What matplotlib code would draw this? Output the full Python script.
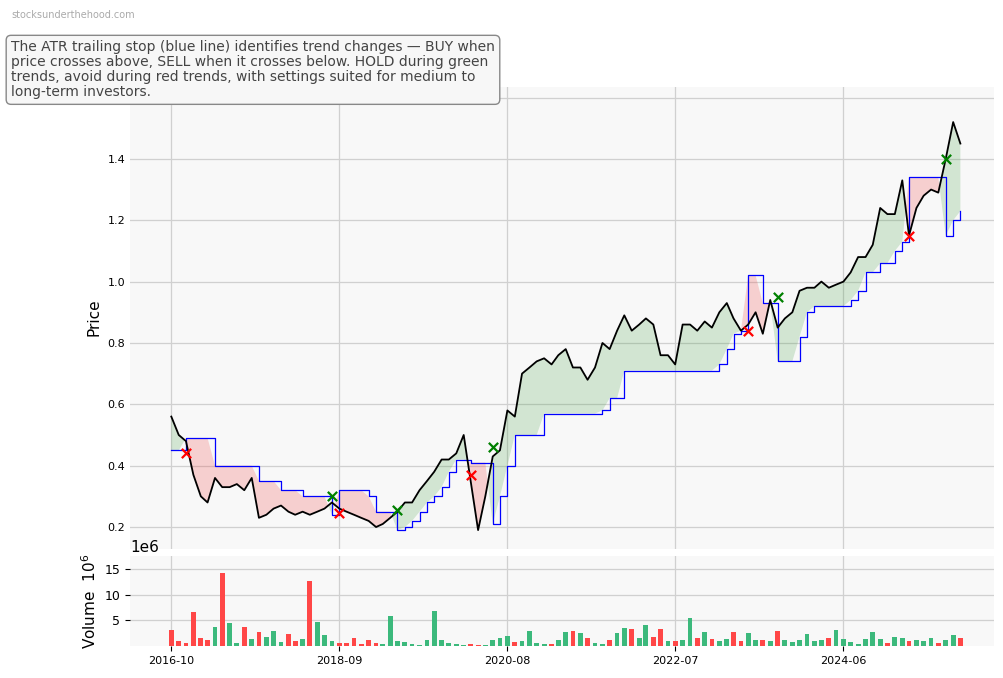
import matplotlib
matplotlib.use("Agg")
import matplotlib.pyplot as plt
import matplotlib.dates as mdates
import numpy as np
import pandas as pd

# Datos mensuales (oct-2016 en adelante)
PRECIO = [0.56, 0.50, 0.48, 0.37, 0.30, 0.28, 0.36, 0.33, 0.33, 0.34, 0.32, 0.36,
          0.23, 0.24, 0.26, 0.27, 0.25, 0.24, 0.25, 0.24, 0.25, 0.26, 0.28, 0.26,
          0.25, 0.24, 0.23, 0.22, 0.20, 0.21, 0.23, 0.25, 0.28, 0.28, 0.32, 0.35,
          0.38, 0.42, 0.42, 0.44, 0.50, 0.35, 0.19, 0.30, 0.43, 0.45, 0.58, 0.56,
          0.70, 0.72, 0.74, 0.75, 0.73, 0.76, 0.78, 0.72, 0.72, 0.68, 0.72, 0.80,
          0.78, 0.84, 0.89, 0.84, 0.86, 0.88, 0.86, 0.76, 0.76, 0.73, 0.86, 0.86,
          0.84, 0.87, 0.85, 0.90, 0.93, 0.88, 0.84, 0.86, 0.90, 0.83, 0.94, 0.85,
          0.88, 0.90, 0.97, 0.98, 0.98, 1.00, 0.98, 0.99, 1.00, 1.03, 1.08, 1.08,
          1.12, 1.24, 1.22, 1.22, 1.33, 1.15, 1.24, 1.28, 1.30, 1.29, 1.40, 1.52, 1.45]

STOP = [0.45, 0.45, 0.49, 0.49, 0.49, 0.49, 0.40, 0.40, 0.40, 0.40, 0.40, 0.40,
        0.35, 0.35, 0.35, 0.32, 0.32, 0.32, 0.30, 0.30, 0.30, 0.30, 0.24, 0.32,
        0.32, 0.32, 0.32, 0.30, 0.25, 0.25, 0.25, 0.19, 0.20, 0.22, 0.25, 0.28,
        0.30, 0.33, 0.38, 0.42, 0.42, 0.41, 0.41, 0.41, 0.21, 0.30, 0.40, 0.50,
        0.50, 0.50, 0.50, 0.57, 0.57, 0.57, 0.57, 0.57, 0.57, 0.57, 0.57, 0.58,
        0.62, 0.62, 0.71, 0.71, 0.71, 0.71, 0.71, 0.71, 0.71, 0.71, 0.71, 0.71,
        0.71, 0.71, 0.71, 0.73, 0.78, 0.83, 0.84, 1.02, 1.02, 0.93, 0.93, 0.74,
        0.74, 0.74, 0.82, 0.90, 0.92, 0.92, 0.92, 0.92, 0.92, 0.94, 0.97, 1.03,
        1.03, 1.06, 1.06, 1.10, 1.13, 1.34, 1.34, 1.34, 1.34, 1.34, 1.15, 1.20, 1.23]

VOLUMEN = [3.1, 0.9, 0.6, 6.6, 1.5, 1.1, 3.7, 14.2, 4.4, 0.7, 3.8, 1.3,
           2.8, 1.7, 2.9, 0.8, 2.3, 1.0, 1.3, 12.7, 4.6, 2.1, 0.9, 0.6,
           0.6, 1.5, 0.5, 1.1, 0.7, 0.5, 5.8, 1.0, 0.8, 0.5, 0.3, 1.1,
           6.8, 1.1, 0.7, 0.4, 0.3, 0.5, 0.2, 0.3, 1.1, 1.6, 1.9, 0.8,
           1.0, 2.9, 0.7, 0.5, 0.4, 1.1, 2.7, 2.9, 2.5, 1.6, 0.6, 0.4,
           1.2, 2.5, 3.6, 3.4, 1.5, 4.1, 1.8, 3.3, 1.0, 0.9, 1.2, 5.4,
           1.6, 2.7, 1.3, 0.9, 1.3, 2.7, 0.9, 2.5, 1.2, 1.1, 0.9, 3.0,
           1.2, 0.8, 1.2, 2.3, 0.9, 1.1, 1.6, 3.2, 1.3, 0.8, 0.5, 1.3,
           2.7, 1.4, 0.6, 1.7, 1.5, 1.0, 1.1, 0.9, 1.6, 0.7, 1.2, 2.1, 1.5]

COMPRA_MES = [22, 31, 44, 83, 106]
COMPRA_PRECIO = [0.30, 0.255, 0.46, 0.95, 1.40]
VENTA_MES = [2, 23, 41, 79, 101]
VENTA_PRECIO = [0.44, 0.245, 0.37, 0.84, 1.15]

TICKS_X = ["2016-10", "2018-09", "2020-08", "2022-07", "2024-06"]

COLOR_VERDE = "#3cb97c"
COLOR_ROJO = "#ff4747"

fechas = pd.date_range("2016-10-01", periods=len(PRECIO), freq="MS")
precio = np.array(PRECIO)
stop = np.array(STOP)
volumen = np.array(VOLUMEN) * 1e6

figura = plt.figure(figsize=(10.04, 6.78), dpi=100)
ejes = figura.add_axes([0.1295, 0.191, 0.861, 0.681])
ejes_vol = figura.add_axes([0.1295, 0.047, 0.861, 0.133], sharex=ejes)

for e in (ejes, ejes_vol):
    e.set_facecolor("#f8f8f8")
    for s in e.spines.values():
        s.set_visible(False)
    e.grid(True, color="#d0d0d0", linewidth=0.9)
    e.set_axisbelow(True)

ejes.fill_between(fechas, precio, stop, where=precio >= stop, interpolate=True, color="#3a9a3a", alpha=0.2, linewidth=0)
ejes.fill_between(fechas, precio, stop, where=precio < stop, interpolate=True, color="#f04040", alpha=0.22, linewidth=0)
ejes.plot(fechas, stop, color="blue", linewidth=0.9, drawstyle="steps-post")
ejes.plot(fechas, precio, color="black", linewidth=1.3)
ejes.scatter(fechas[COMPRA_MES], COMPRA_PRECIO, marker="x", color="green", s=45, linewidths=1.6, zorder=5)
ejes.scatter(fechas[VENTA_MES], VENTA_PRECIO, marker="x", color="red", s=45, linewidths=1.6, zorder=5)

ejes.set_ylim(0.13, 1.635)
ejes.set_yticks([0.2, 0.4, 0.6, 0.8, 1.0, 1.2, 1.4, 1.6])
ejes.set_yticklabels(["0.2", "0.4", "0.6", "0.8", "1.0", "1.2", "1.4", ""])
ejes.set_ylabel("Price", fontsize=11)
ejes.tick_params(axis="y", length=0, labelsize=8)
ejes.tick_params(axis="x", length=0, labelbottom=False)

colores = [COLOR_VERDE if i > 0 and precio[i] >= precio[i - 1] else COLOR_ROJO for i in range(len(precio))]
ejes_vol.bar(fechas, volumen, width=20, color=colores)
ejes_vol.set_ylim(0, 17.5e6)
ejes_vol.set_yticks([5e6, 10e6, 15e6])
ejes_vol.ticklabel_format(axis="y", style="sci", scilimits=(6, 6))
ejes_vol.yaxis.get_offset_text().set_fontsize(11)
ejes_vol.set_ylabel("Volume  $10^6$", fontsize=11)
ejes_vol.tick_params(axis="y", labelsize=9)
ejes_vol.tick_params(axis="x", labelsize=8)

ejes_vol.set_xticks([pd.Timestamp(t + "-01") for t in TICKS_X])
ejes_vol.xaxis.set_major_formatter(mdates.DateFormatter("%Y-%m"))
ejes_vol.set_xlim(pd.Timestamp("2016-04-12"), pd.Timestamp("2026-02-20"))

figura.text(0.011, 0.978, "stocksunderthehood.com", fontsize=7, color="#aaaaaa", va="center")
figura.text(0.011, 0.897,
            "The ATR trailing stop (blue line) identifies trend changes \u2014 BUY when\n"
            "price crosses above, SELL when it crosses below. HOLD during green\n"
            "trends, avoid during red trends, with settings suited for medium to\n"
            "long-term investors.",
            fontsize=10, color="#444444", va="center", linespacing=1.1,
            bbox=dict(boxstyle="round,pad=0.35", facecolor="#f7f7f7", edgecolor="#888888"))

figura.savefig("out.png", dpi=100)
